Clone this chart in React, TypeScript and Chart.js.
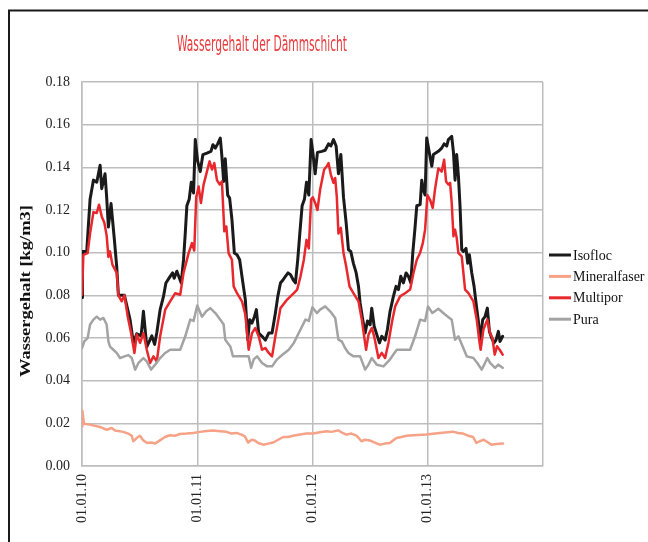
import React, { useEffect, useRef } from "react";
import { Chart, registerables } from "chart.js";

Chart.register(...registerables);

const TITLE = "Wassergehalt der Dämmschicht";
const Y_TITLE = "Wassergehalt [kg/m3]";
const seriesNames = ["Isofloc", "Mineralfaser", "Multipor", "Pura"];
const seriesColors = ["#1a1a1a", "#f5a287", "#e8282d", "#a3a3a3"];

const xTickValues = [0, 1, 2, 3, 4];
const xTickLabels = ["01.01.10", "01.01.11", "01.01.12", "01.01.13", ""];
const yTickValues = [0, 0.02, 0.04, 0.06, 0.08, 0.1, 0.12, 0.14, 0.16, 0.18];

// x = years since 01.01.2010
const isoflocT = [0, 0.004, 0.041, 0.07, 0.099, 0.128, 0.157, 0.171, 0.2, 0.214, 0.229, 0.252, 0.281, 0.301, 0.316, 0.368, 0.417, 0.446, 0.475, 0.513, 0.533, 0.562, 0.606, 0.63, 0.649, 0.678, 0.707, 0.728, 0.765, 0.786, 0.8, 0.823, 0.861, 0.881, 0.896, 0.91, 0.93, 0.948, 0.968, 0.983, 1.003, 1.026, 1.049, 1.084, 1.119, 1.136, 1.157, 1.177, 1.2, 1.214, 1.229, 1.243, 1.264, 1.281, 1.301, 1.322, 1.345, 1.368, 1.388, 1.417, 1.438, 1.455, 1.475, 1.496, 1.513, 1.533, 1.562, 1.591, 1.62, 1.649, 1.678, 1.699, 1.722, 1.745, 1.765, 1.788, 1.809, 1.832, 1.852, 1.872, 1.89, 1.91, 1.93, 1.948, 1.968, 1.988, 2.003, 2.023, 2.043, 2.081, 2.11, 2.139, 2.159, 2.182, 2.205, 2.225, 2.246, 2.269, 2.292, 2.312, 2.332, 2.355, 2.379, 2.399, 2.413, 2.436, 2.457, 2.477, 2.5, 2.514, 2.535, 2.558, 2.581, 2.601, 2.63, 2.65, 2.673, 2.702, 2.725, 2.746, 2.766, 2.789, 2.812, 2.832, 2.853, 2.87, 2.89, 2.905, 2.934, 2.948, 2.962, 2.977, 2.991, 3.02, 3.035, 3.049, 3.092, 3.121, 3.142, 3.165, 3.179, 3.208, 3.223, 3.237, 3.251, 3.266, 3.28, 3.295, 3.309, 3.332, 3.347, 3.361, 3.382, 3.402, 3.419, 3.439, 3.454, 3.477, 3.497, 3.517, 3.535, 3.555, 3.575, 3.592, 3.613, 3.627, 3.65];
const isoflocV = [0.079, 0.1006, 0.1006, 0.125, 0.134, 0.133, 0.141, 0.13, 0.137, 0.126, 0.112, 0.123, 0.106, 0.0936, 0.08, 0.08, 0.0686, 0.0577, 0.062, 0.061, 0.0725, 0.0558, 0.061, 0.057, 0.0625, 0.0733, 0.0795, 0.0858, 0.0889, 0.0905, 0.088, 0.0913, 0.0858, 0.0967, 0.109, 0.122, 0.125, 0.133, 0.128, 0.153, 0.143, 0.138, 0.146, 0.1467, 0.1475, 0.1506, 0.149, 0.151, 0.1537, 0.145, 0.1334, 0.144, 0.127, 0.1256, 0.1155, 0.0998, 0.099, 0.0967, 0.0889, 0.078, 0.0592, 0.0686, 0.067, 0.07, 0.0733, 0.0623, 0.0608, 0.059, 0.0623, 0.0623, 0.0717, 0.0795, 0.0858, 0.0873, 0.0889, 0.0905, 0.0897, 0.0873, 0.0858, 0.0967, 0.109, 0.122, 0.125, 0.133, 0.127, 0.153, 0.147, 0.137, 0.147, 0.1475, 0.148, 0.151, 0.15, 0.153, 0.15, 0.137, 0.146, 0.126, 0.114, 0.1014, 0.1006, 0.095, 0.0905, 0.0842, 0.0764, 0.0686, 0.0623, 0.068, 0.0662, 0.074, 0.0655, 0.0616, 0.0577, 0.0608, 0.059, 0.064, 0.0725, 0.0795, 0.0842, 0.0827, 0.0889, 0.0858, 0.0905, 0.0889, 0.0858, 0.0998, 0.112, 0.122, 0.1225, 0.134, 0.1295, 0.127, 0.1537, 0.145, 0.1405, 0.146, 0.1475, 0.149, 0.151, 0.15, 0.153, 0.1545, 0.147, 0.134, 0.146, 0.136, 0.122, 0.1014, 0.1006, 0.102, 0.095, 0.099, 0.0905, 0.0842, 0.0764, 0.068, 0.0592, 0.0686, 0.07, 0.074, 0.0631, 0.06, 0.0577, 0.059, 0.0631, 0.0584, 0.0608];

const mineralT = [0, 0.003, 0.017, 0.069, 0.156, 0.214, 0.257, 0.286, 0.358, 0.402, 0.431, 0.445, 0.474, 0.503, 0.532, 0.566, 0.604, 0.633, 0.676, 0.72, 0.763, 0.806, 0.85, 0.908, 0.965, 1.023, 1.081, 1.139, 1.197, 1.254, 1.298, 1.341, 1.384, 1.413, 1.442, 1.471, 1.5, 1.529, 1.572, 1.616, 1.659, 1.702, 1.746, 1.789, 1.832, 1.89, 1.948, 2.006, 2.064, 2.121, 2.165, 2.223, 2.251, 2.295, 2.338, 2.382, 2.425, 2.454, 2.497, 2.54, 2.584, 2.627, 2.67, 2.728, 2.772, 2.815, 2.873, 2.988, 3.104, 3.22, 3.263, 3.306, 3.35, 3.393, 3.422, 3.451, 3.486, 3.523, 3.552, 3.595, 3.653];
const mineralV = [0.0186, 0.026, 0.0198, 0.0194, 0.0183, 0.017, 0.0178, 0.0166, 0.016, 0.0152, 0.0142, 0.0116, 0.0131, 0.0142, 0.012, 0.0108, 0.011, 0.0105, 0.012, 0.0136, 0.0144, 0.0142, 0.015, 0.0152, 0.0155, 0.016, 0.0164, 0.0166, 0.0163, 0.016, 0.0152, 0.0155, 0.0147, 0.0139, 0.011, 0.0123, 0.012, 0.0108, 0.01, 0.0105, 0.011, 0.0123, 0.0136, 0.0136, 0.0142, 0.0148, 0.0152, 0.0152, 0.0158, 0.0163, 0.016, 0.0167, 0.0158, 0.0147, 0.0152, 0.0142, 0.0116, 0.0123, 0.012, 0.011, 0.01, 0.0105, 0.0108, 0.0131, 0.0136, 0.0142, 0.0144, 0.0148, 0.0155, 0.0161, 0.0155, 0.0152, 0.0142, 0.0136, 0.0108, 0.0116, 0.0123, 0.011, 0.01, 0.0103, 0.0105];

const multiporT = [0, 0.012, 0.049, 0.07, 0.099, 0.128, 0.148, 0.171, 0.194, 0.214, 0.229, 0.243, 0.264, 0.301, 0.316, 0.345, 0.368, 0.397, 0.426, 0.455, 0.475, 0.504, 0.533, 0.562, 0.591, 0.62, 0.649, 0.678, 0.722, 0.765, 0.809, 0.852, 0.881, 0.925, 0.954, 0.974, 0.991, 1.012, 1.032, 1.055, 1.084, 1.107, 1.128, 1.148, 1.171, 1.194, 1.214, 1.235, 1.252, 1.272, 1.301, 1.316, 1.345, 1.388, 1.417, 1.446, 1.475, 1.504, 1.533, 1.562, 1.591, 1.62, 1.649, 1.678, 1.722, 1.78, 1.838, 1.867, 1.896, 1.925, 1.948, 1.968, 1.988, 2.003, 2.023, 2.043, 2.066, 2.101, 2.124, 2.139, 2.159, 2.182, 2.197, 2.211, 2.225, 2.246, 2.269, 2.292, 2.321, 2.355, 2.399, 2.428, 2.448, 2.465, 2.486, 2.514, 2.535, 2.558, 2.572, 2.601, 2.63, 2.659, 2.688, 2.717, 2.76, 2.803, 2.847, 2.876, 2.905, 2.934, 2.957, 2.977, 2.997, 3.02, 3.043, 3.064, 3.092, 3.121, 3.142, 3.159, 3.179, 3.194, 3.208, 3.223, 3.237, 3.251, 3.266, 3.295, 3.324, 3.353, 3.396, 3.425, 3.448, 3.459, 3.483, 3.517, 3.541, 3.561, 3.581, 3.601, 3.624, 3.65];
const multiporV = [0.0803, 0.099, 0.0998, 0.109, 0.119, 0.1186, 0.1225, 0.117, 0.114, 0.108, 0.098, 0.1006, 0.0944, 0.0905, 0.08, 0.0772, 0.08, 0.07, 0.0623, 0.053, 0.0616, 0.0577, 0.0623, 0.0545, 0.0483, 0.0514, 0.049, 0.0608, 0.0733, 0.0772, 0.081, 0.0803, 0.0905, 0.0998, 0.1045, 0.101, 0.126, 0.131, 0.1233, 0.1319, 0.138, 0.1428, 0.139, 0.142, 0.134, 0.132, 0.1334, 0.11, 0.1123, 0.0998, 0.0967, 0.0842, 0.081, 0.0772, 0.071, 0.0545, 0.0623, 0.0647, 0.0608, 0.0545, 0.0553, 0.053, 0.0514, 0.0608, 0.074, 0.078, 0.081, 0.0827, 0.0889, 0.0967, 0.106, 0.102, 0.125, 0.126, 0.1233, 0.12, 0.1295, 0.139, 0.1405, 0.142, 0.1366, 0.1327, 0.135, 0.126, 0.109, 0.1116, 0.0998, 0.0936, 0.0842, 0.081, 0.0772, 0.0686, 0.0608, 0.0545, 0.0616, 0.0647, 0.0608, 0.0545, 0.0506, 0.053, 0.0506, 0.0577, 0.067, 0.0748, 0.0795, 0.081, 0.0827, 0.0905, 0.0967, 0.1, 0.1045, 0.1108, 0.127, 0.1248, 0.121, 0.13, 0.1395, 0.138, 0.1436, 0.1334, 0.132, 0.1327, 0.1233, 0.1077, 0.1108, 0.107, 0.0998, 0.0983, 0.0827, 0.081, 0.0772, 0.0686, 0.0584, 0.0545, 0.064, 0.0686, 0.0623, 0.06, 0.0522, 0.0561, 0.0545, 0.0522];

const puraT = [0, 0.02, 0.049, 0.07, 0.099, 0.128, 0.157, 0.186, 0.214, 0.229, 0.243, 0.272, 0.301, 0.33, 0.368, 0.403, 0.432, 0.461, 0.49, 0.533, 0.562, 0.6, 0.635, 0.678, 0.722, 0.765, 0.852, 0.896, 0.939, 0.968, 1.0, 1.041, 1.078, 1.113, 1.157, 1.2, 1.229, 1.243, 1.264, 1.287, 1.31, 1.446, 1.467, 1.49, 1.519, 1.562, 1.606, 1.649, 1.693, 1.736, 1.794, 1.838, 1.896, 1.939, 1.968, 1.999, 2.038, 2.066, 2.11, 2.153, 2.197, 2.225, 2.254, 2.283, 2.312, 2.355, 2.413, 2.457, 2.486, 2.514, 2.558, 2.616, 2.673, 2.731, 2.847, 2.89, 2.934, 2.977, 3.002, 3.04, 3.092, 3.15, 3.208, 3.237, 3.266, 3.303, 3.338, 3.396, 3.43, 3.468, 3.497, 3.517, 3.541, 3.584, 3.613, 3.65];
const puraV = [0.0553, 0.0584, 0.06, 0.0663, 0.0686, 0.07, 0.0686, 0.0694, 0.0663, 0.0584, 0.056, 0.0545, 0.053, 0.0506, 0.0514, 0.052, 0.0506, 0.0452, 0.0483, 0.0506, 0.049, 0.0452, 0.0475, 0.0506, 0.053, 0.0545, 0.0545, 0.0608, 0.0686, 0.068, 0.0752, 0.07, 0.0725, 0.074, 0.0717, 0.0686, 0.0663, 0.0592, 0.0577, 0.056, 0.0514, 0.0514, 0.046, 0.05, 0.0514, 0.0483, 0.0467, 0.0467, 0.05, 0.052, 0.0545, 0.0577, 0.064, 0.0686, 0.068, 0.0744, 0.0717, 0.0733, 0.0748, 0.0725, 0.0694, 0.0592, 0.0584, 0.0553, 0.053, 0.0514, 0.0514, 0.0452, 0.0475, 0.0506, 0.0475, 0.0467, 0.05, 0.0545, 0.0545, 0.0608, 0.0686, 0.068, 0.0748, 0.0717, 0.0737, 0.071, 0.0686, 0.0592, 0.0608, 0.056, 0.0514, 0.0506, 0.0483, 0.0452, 0.0483, 0.0506, 0.0483, 0.046, 0.0475, 0.046];

const toPoints = (t: number[], v: number[]) => t.map((x, i) => ({ x, y: v[i] }));

const SERIF = '"Liberation Serif", "Times New Roman", serif';

const decorPlugin = {
  id: "decor",
  afterDraw(chart: any) {
    const ctx = chart.ctx as CanvasRenderingContext2D;
    // frame
    ctx.save();
    ctx.strokeStyle = "#1a1a1a";
    ctx.lineWidth = 2;
    ctx.beginPath();
    ctx.moveTo(9, 542);
    ctx.lineTo(9, 10.5);
    ctx.lineTo(648, 10.5);
    ctx.stroke();
    ctx.restore();

    // title
    ctx.save();
    ctx.font = '22px "Liberation Sans Narrow", "DejaVu Sans Condensed", "Liberation Sans", sans-serif';
    const tw = ctx.measureText(TITLE).width;
    ctx.translate(262, 51);
    ctx.scale(170 / tw, 1);
    ctx.fillStyle = "#e8393c";
    ctx.textAlign = "center";
    ctx.textBaseline = "alphabetic";
    ctx.fillText(TITLE, 0, 0);
    ctx.restore();

    // y axis title
    ctx.save();
    ctx.font = "bold 15px " + SERIF;
    const yw = ctx.measureText(Y_TITLE).width;
    ctx.translate(26, 291);
    ctx.rotate(-Math.PI / 2);
    ctx.scale(172 / yw, 1);
    ctx.fillStyle = "#111";
    ctx.textAlign = "center";
    ctx.textBaseline = "middle";
    ctx.fillText(Y_TITLE, 0, 0);
    ctx.restore();

    // legend
    ctx.save();
    ctx.font = "14px " + SERIF;
    ctx.textAlign = "left";
    ctx.textBaseline = "middle";
    seriesNames.forEach((name, i) => {
      const y = 255 + i * 21.4;
      ctx.strokeStyle = seriesColors[i];
      ctx.lineWidth = 3;
      ctx.beginPath();
      ctx.moveTo(549, y);
      ctx.lineTo(571, y);
      ctx.stroke();
      ctx.fillStyle = "#111";
      ctx.fillText(name, 573, y + 1);
    });
    ctx.restore();
  },
};

export default function App() {
  const canvasRef = useRef<HTMLCanvasElement | null>(null);

  useEffect(() => {
    const canvas = canvasRef.current;
    if (!canvas) return;
    const mk = (i: number, pts: any[], width: number, order: number) => ({
      label: seriesNames[i],
      data: pts,
      borderColor: seriesColors[i],
      backgroundColor: seriesColors[i],
      borderWidth: width,
      pointRadius: 0,
      tension: 0,
      fill: false,
      order,
      borderJoinStyle: "round" as const,
      borderCapStyle: "round" as const,
    });
    const chart = new Chart(canvas, {
      type: "line",
      data: {
        datasets: [
          mk(0, toPoints(isoflocT, isoflocV), 3, 4),
          mk(1, toPoints(mineralT, mineralV), 2.5, 3),
          mk(2, toPoints(multiporT, multiporV), 2.5, 2),
          mk(3, toPoints(puraT, puraV), 2.5, 1),
        ],
      },
      options: {
        responsive: false,
        animation: false,
        parsing: true,
        layout: { padding: { left: 0, top: 82, right: 105, bottom: 0 } },
        plugins: {
          legend: { display: false },
          title: { display: false },
          tooltip: { enabled: false },
        },
        scales: {
          x: {
            type: "linear",
            min: 0,
            max: 4,
            afterBuildTicks: (scale: any) => {
              scale.ticks = xTickValues.map((v) => ({ value: v }));
            },
            afterFit: (scale: any) => {
              scale.height = 76;
            },
            grid: { color: "#bdbdbd", lineWidth: 1.5, drawTicks: false },
            border: { color: "#bdbdbd", width: 1.5 },
            ticks: {
              autoSkip: false,
              minRotation: 90,
              maxRotation: 90,
              padding: 8,
              color: "#222",
              font: { family: SERIF, size: 14 },
              callback: (_v: any, i: number) => xTickLabels[i] ?? "",
            },
          },
          y: {
            type: "linear",
            min: 0,
            max: 0.18,
            afterBuildTicks: (scale: any) => {
              scale.ticks = yTickValues.map((v) => ({ value: v }));
            },
            afterFit: (scale: any) => {
              scale.width = 82;
            },
            grid: { color: "#bdbdbd", lineWidth: 1.5, drawTicks: false },
            border: { color: "#bdbdbd", width: 1.5 },
            ticks: {
              padding: 12,
              color: "#222",
              font: { family: SERIF, size: 14 },
              callback: (v: any) => Number(v).toFixed(2),
            },
          },
        },
      },
      plugins: [decorPlugin],
    });
    return () => chart.destroy();
  }, []);

  return (
    <div style={{ position: "fixed", left: 0, top: 0, width: 648, height: 542, background: "#fff" }}>
      <canvas ref={canvasRef} width={648} height={542} style={{ display: "block" }} />
    </div>
  );
}
